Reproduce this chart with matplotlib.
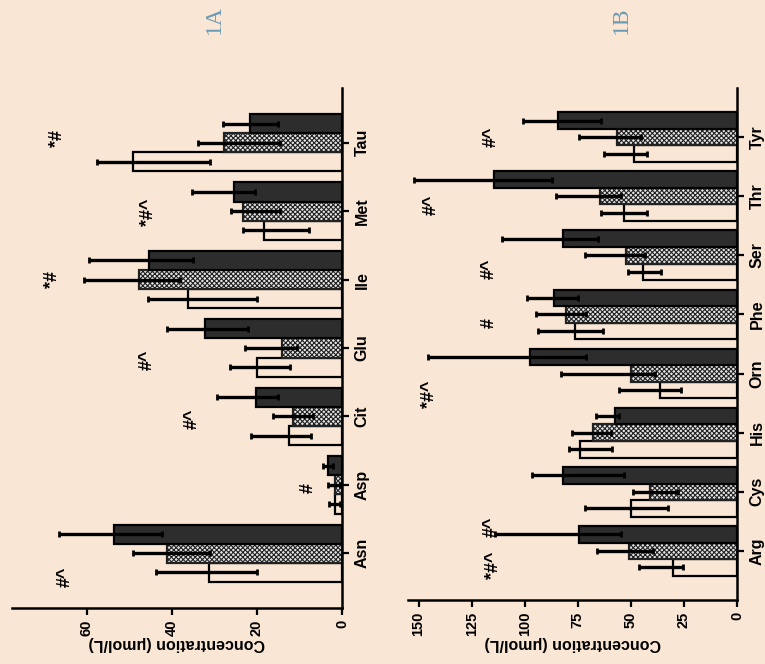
import numpy as np
import matplotlib.pyplot as plt

# Panel 1A amino acids (bottom to top in the rotated picture)
cats_a = ["Asn", "Asp", "Cit", "Glu", "Ile", "Met", "Tau"]
white_a = [31.2, 1.7, 12.4, 20.0, 36.2, 18.3, 49.2]
white_a_hi = [43.8, 3.0, 21.5, 26.4, 45.6, 23.3, 57.6]
white_a_lo = [20.0, 0.5, 7.2, 12.2, 20.0, 7.8, 31.0]
hatch_a = [41.2, 1.6, 11.6, 14.1, 47.7, 23.3, 27.8]
hatch_a_hi = [49.2, 3.2, 16.2, 22.8, 60.6, 26.0, 33.9]
hatch_a_lo = [31.0, 0.5, 6.8, 10.6, 38.1, 14.6, 14.6]
dark_a = [53.6, 3.2, 20.2, 32.2, 45.4, 25.3, 21.6]
dark_a_hi = [66.5, 4.4, 29.4, 41.2, 59.4, 35.3, 28.0]
dark_a_lo = [42.4, 2.0, 15.0, 22.0, 35.0, 20.5, 15.0]
marks_a = ["#^", "#", "#^", "#^", "*#", "*#^", "*#"]
marks_a_val = [65.0, 8.0, 35.3, 45.9, 68.0, 45.6, 66.8]
marks_a_off = [-0.35, -0.04, -0.04, -0.17, 0.0, -0.02, 0.06]

# Panel 1B amino acids
cats_b = ["Arg", "Cys", "His", "Orn", "Phe", "Ser", "Thr", "Tyr"]
white_b = [30.2, 50.0, 74.1, 36.3, 76.4, 44.3, 53.3, 48.6]
white_b_hi = [46.0, 71.7, 79.2, 55.7, 93.9, 51.4, 64.2, 62.7]
white_b_lo = [25.5, 32.5, 59.0, 26.4, 63.2, 35.8, 42.5, 42.5]
hatch_b = [51.0, 41.0, 68.0, 50.0, 80.7, 52.4, 64.6, 56.6]
hatch_b_hi = [66.0, 49.1, 77.9, 83.0, 94.8, 71.7, 85.4, 74.5]
hatch_b_lo = [39.6, 27.8, 59.4, 38.7, 71.2, 43.4, 54.7, 45.3]
dark_b = [74.5, 82.1, 57.5, 97.6, 86.3, 82.1, 114.6, 84.1]
dark_b_hi = [114.2, 96.7, 66.5, 145.8, 99.0, 110.8, 152.4, 101.0]
dark_b_lo = [54.7, 53.3, 55.5, 71.2, 75.0, 65.6, 87.3, 64.0]
marks_b = ["*#^", "#^", "", "*#^", "#", "#^", "#^", "#^"]
marks_b_val = [114.6, 116.0, 0, 145.0, 116.5, 116.5, 144.0, 116.0]
marks_b_off = [-0.24, -0.59, 0, -0.35, -0.14, -0.22, -0.15, 0.0]

bg = "#fae6d5"
plt.rcParams["font.family"] = ["Liberation Sans", "DejaVu Sans"]
plt.rcParams["font.weight"] = "bold"
plt.rcParams["hatch.linewidth"] = 0.8

fig = plt.figure(figsize=(7.65, 6.64), dpi=100)
fig.patch.set_facecolor(bg)


def panel(ax, cats, series, marks, marks_val, marks_off, vmax, ticks, ylim):
    ax.set_facecolor(bg)
    y = np.arange(len(cats))
    h = 0.28
    styles = [
        dict(color=bg, edgecolor="black", hatch=None),
        dict(color="#e6e6e6", edgecolor="#222222", hatch="xxxxxxx"),
        dict(color="#2d2d2d", edgecolor="black", hatch=None),
    ]
    for k, (m, hi, lo) in enumerate(series):
        m = np.array(m)
        pos = y + (k - 1) * h
        ax.barh(pos, m, height=h, linewidth=1.6, zorder=2, **styles[k])
        err = [m - np.array(lo), np.array(hi) - m]
        ax.errorbar(m, pos, xerr=err, fmt="none", ecolor="black",
                    elinewidth=2.4, capsize=2.5, capthick=2, zorder=3)
    for i, t in enumerate(marks):
        if t:
            ax.text(marks_val[i], y[i] + marks_off[i], t, rotation=90,
                    ha="center", va="center", fontsize=13, fontweight="bold")
    ax.set_xlim(vmax, 0)
    ax.set_ylim(*ylim)
    ax.set_xticks(ticks)
    ax.set_xticklabels([str(t) for t in ticks], rotation=90, fontsize=10.5,
                       fontweight="bold")
    ax.yaxis.tick_right()
    ax.set_yticks(y)
    ax.set_yticklabels(cats, rotation=90, fontsize=11.5, fontweight="bold",
                       va="center")
    ax.tick_params(width=1.6, length=5, direction="out")
    ax.tick_params(axis="y", pad=4)
    for s in ["left", "top"]:
        ax.spines[s].set_visible(False)
    for s in ["bottom", "right"]:
        ax.spines[s].set_linewidth(1.8)
    ax.set_xlabel("Concentration (\u03bcmol/L)", rotation=180, fontsize=11.5,
                  fontweight="bold", labelpad=0)


ax1 = fig.add_axes([12 / 765, 56 / 664, 330 / 765, 520 / 664])
panel(ax1, cats_a,
      [(white_a, white_a_hi, white_a_lo), (hatch_a, hatch_a_hi, hatch_a_lo),
       (dark_a, dark_a_hi, dark_a_lo)],
      marks_a, marks_a_val, marks_a_off, 77.6, [0, 20, 40, 60], (-0.8, 6.8))

ax2 = fig.add_axes([408 / 765, 64 / 664, 329 / 765, 512 / 664])
panel(ax2, cats_b,
      [(white_b, white_b_hi, white_b_lo), (hatch_b, hatch_b_hi, hatch_b_lo),
       (dark_b, dark_b_hi, dark_b_lo)],
      marks_b, marks_b_val, marks_b_off, 155, [0, 25, 50, 75, 100, 125, 150],
      (-0.83, 7.83))

fig.text(214 / 765, 1 - 20 / 664, "1A", rotation=90, ha="center", va="center",
         fontsize=17, color="#6b9bb5", family="Liberation Serif",
         fontweight="normal")
fig.text(621 / 765, 1 - 20 / 664, "1B", rotation=90, ha="center", va="center",
         fontsize=17, color="#6b9bb5", family="Liberation Serif",
         fontweight="normal")

fig.savefig("out.png", dpi=100, facecolor=bg)
